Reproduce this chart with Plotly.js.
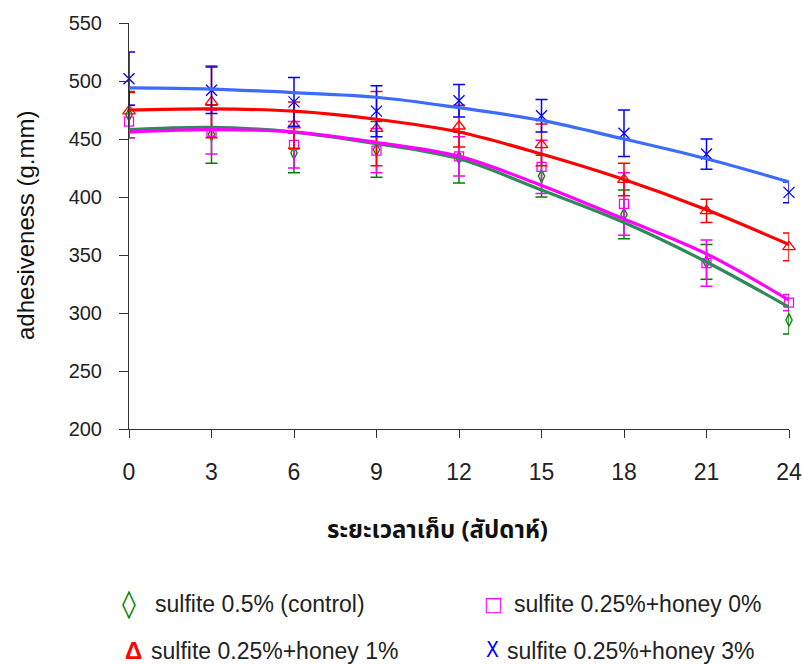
<!DOCTYPE html>
<html><head><meta charset="utf-8">
<script src="https://cdn.plot.ly/plotly-3.0.1.min.js"></script>
<style>html,body{margin:0;padding:0;background:#fff}#chart{width:803px;height:664px}</style>
</head><body><div id="chart"></div>
<script>
// Storage time (weeks)
const weeks = [0, 3, 6, 9, 12, 15, 18, 21, 24];
const xTickLabels = ['0','3','6','9','12','15','18','21','24'];
const yTicks = [200, 250, 300, 350, 400, 450, 500, 550];

const seriesNames = ['sulfite 0.5% (control)', 'sulfite 0.25%+honey 0%', 'sulfite 0.25%+honey 1%', 'sulfite 0.25%+honey 3%'];

// measured means
const control  = [471, 454, 438, 441, 434, 418, 385, 344, 294];
const honey0   = [465, 456, 445, 440, 435, 426, 394, 343, 309];
const honey1   = [474, 482, 462, 459, 461, 445, 415, 388, 357];
const honey3   = [502, 492, 482, 474, 483, 470, 455, 437, 404];

// error bar half-lengths
const controlErr = [20, 25, 17, 24, 22, 18, 21, 15, 12];
const honey0Err  = [14, 19, 20, 19, 17, 23, 27, 20, 7];
const honey1Err  = [16, 31, 20, 32, 18, 18, 14, 10, 12];
const honey3Err  = [23, 20, 21, 22, 14, 14, 20, 13, 9];

// trend curves at each week
const controlTrend = [458, 460, 456, 446, 433, 406, 378, 344, 305];
const honey0Trend  = [456, 458, 456, 447, 435, 410, 381, 351, 311];
const honey1Trend  = [475, 476, 474, 467, 456, 437, 415, 389, 359];
const honey3Trend  = [494, 493, 490, 486, 477, 466, 450, 433, 413];

const markerColors = ['#008000', '#FF00FF', '#FF0000', '#0000FF'];
const lineColors   = ['#2E8B57', '#FF00FF', '#FF0000', '#3B6BFF'];
const symbols = ['diamond-tall-open', 'square-open', 'triangle-up-open', 'x-thin-open'];
const sizes = [9, 9, 11, 11];

const means = [control, honey0, honey1, honey3];
const errs = [controlErr, honey0Err, honey1Err, honey3Err];
const trends = [controlTrend, honey0Trend, honey1Trend, honey3Trend];

const traces = [];
for (let i = 0; i < 4; i++) {
  traces.push({
    x: weeks, y: means[i], type: 'scatter', mode: 'markers', name: seriesNames[i],
    showlegend: false, cliponaxis: false,
    marker: {symbol: symbols[i], size: sizes[i], color: markerColors[i], line: {width: 1.3, color: markerColors[i]}},
    error_y: {type: 'data', array: errs[i], visible: true, color: markerColors[i], thickness: 1.5, width: 6}
  });
}
for (let i = 0; i < 4; i++) {
  traces.push({
    x: weeks, y: trends[i], type: 'scatter', mode: 'lines', showlegend: false, hoverinfo: 'skip',
    line: {color: lineColors[i], width: 3.2, shape: 'spline', smoothing: 1}
  });
}

const W = 660, H = 406, L = 129, B = 429;
const px = v => (v - L) / W;
const py = v => (B - v) / H;

const legendFont = {family: 'Liberation Sans, Arial, sans-serif', size: 23, color: '#222'};
const glyphs = ['\u25CA', '\u25A1', '<b>\u0394</b>', 'X'];
const glyphX = [129, 494, 133, 492];
const glyphY = [603, 604, 650, 650];
const textX = [153, 512, 149, 505];
const rowY = [604, 604, 651, 651];
const glyphFont = [
  {family: 'DejaVu Sans, sans-serif', size: 28, color: markerColors[0]},
  {family: 'DejaVu Sans, sans-serif', size: 20, color: markerColors[1]},
  {family: 'Liberation Sans, sans-serif', size: 24, color: markerColors[2]},
  {family: 'Liberation Sans Narrow, DejaVu Sans Condensed, sans-serif', size: 21, color: markerColors[3]}
];
const annotations = [];
for (let i = 0; i < 4; i++) {
  annotations.push({xref: 'paper', yref: 'paper', x: px(glyphX[i]), y: py(glyphY[i]), xanchor: 'center', yanchor: 'middle',
    text: glyphs[i], showarrow: false, font: glyphFont[i]});
  annotations.push({xref: 'paper', yref: 'paper', x: px(textX[i]), y: py(rowY[i]), xanchor: 'left', yanchor: 'middle',
    text: seriesNames[i], showarrow: false, font: legendFont});
}
annotations.push({xref: 'paper', yref: 'paper', x: px(437), y: py(531), xanchor: 'center', yanchor: 'middle',
  text: '<b>ระยะเวลาเก็บ (สัปดาห์)</b>', showarrow: false,
  font: {family: 'Noto Sans Thai, Noto Sans, DejaVu Sans, sans-serif', size: 24, color: '#111'}});
annotations.push({xref: 'paper', yref: 'paper', x: px(25), y: 0.5, xanchor: 'center', yanchor: 'middle', textangle: -90,
  text: 'adhesiveness (g.mm)', showarrow: false, font: {family: 'Liberation Sans, Arial, sans-serif', size: 24, color: '#111'}});

const layout = {
  width: 803, height: 664,
  margin: {l: 129, r: 14, t: 23, b: 235},
  paper_bgcolor: '#fff', plot_bgcolor: '#fff',
  showlegend: false,
  xaxis: {
    range: [0, 24], tickvals: weeks, ticktext: xTickLabels, showgrid: false, zeroline: false,
    showline: true, linecolor: '#333', linewidth: 1, ticks: 'outside', ticklen: 8, tickcolor: '#333',
    ticklabelstandoff: 14,
    tickfont: {family: 'Liberation Sans Narrow, Arial Narrow, Liberation Sans, sans-serif', size: 23, color: '#222'}
  },
  yaxis: {
    range: [200, 550], tickvals: yTicks, showgrid: false, zeroline: false,
    showline: true, linecolor: '#333', linewidth: 1, ticks: 'outside', ticklen: 9, tickcolor: '#333',
    ticklabelstandoff: 13,
    tickfont: {family: 'Liberation Sans, Arial, sans-serif', size: 20, color: '#222'}
  },
  annotations: annotations
};
Plotly.newPlot('chart', traces, layout, {displayModeBar: false, staticPlot: true});
</script></body></html>
